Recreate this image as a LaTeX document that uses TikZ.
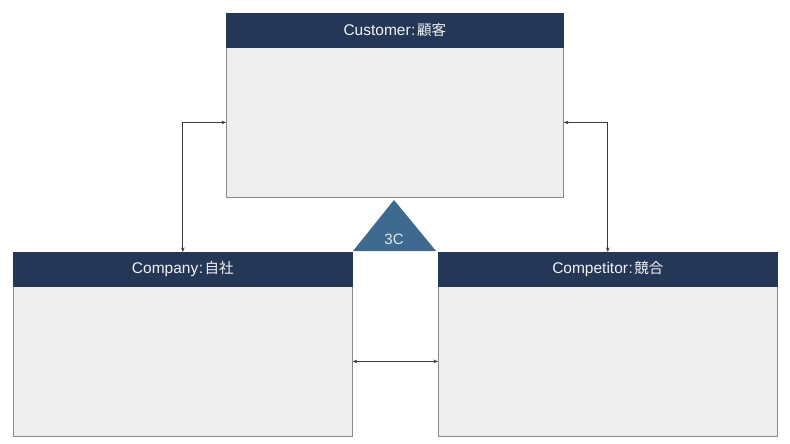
\documentclass[tikz,border=0pt]{standalone}
\usepackage{fontspec}
\setmainfont{Liberation Sans}
\newfontfamily\cjk{Noto Sans CJK JP}
\usetikzlibrary{arrows.meta}
\definecolor{headnavy}{HTML}{243757}
\definecolor{bodygray}{HTML}{EEEEEE}
\definecolor{edgegray}{HTML}{8A8A8A}
\definecolor{trifill}{HTML}{3D6A8E}
\definecolor{linegray}{HTML}{3A3A3A}
\newcommand{\jp}[1]{{\fontsize{14.5}{17}\selectfont\cjk #1}}
\newcommand{\sep}{\kern0.5pt:\kern1.5pt}
\begin{document}
\begin{tikzpicture}[x=1pt,y=-1pt,
  headbox/.style={draw=headnavy,fill=headnavy,text=white!94!headnavy,inner sep=0pt,anchor=north west,
    font=\fontsize{15.5}{18}\selectfont,line width=0.6pt},
  bodybox/.style={draw=edgegray,fill=bodygray,inner sep=0pt,anchor=north west,line width=0.8pt},
  link/.style={draw=linegray,line width=0.7pt,{Stealth[length=4.5pt,width=3.5pt]}-{Stealth[length=4.5pt,width=3.5pt]}}]
\useasboundingbox (0,0) rectangle (790,444);
% top box
\node[bodybox,minimum width=337pt,minimum height=150pt] (topbody) at (226,47) {};
\node[headbox,minimum width=337pt,minimum height=34pt] (tophead) at (226,13) {Customer\sep\jp{顧客}};
% left box
\node[bodybox,minimum width=339pt,minimum height=150pt] (leftbody) at (13,286) {};
\node[headbox,minimum width=339pt,minimum height=34pt] (lefthead) at (13,252) {Company\sep\jp{自社}};
% right box
\node[bodybox,minimum width=339pt,minimum height=150pt] (rightbody) at (438,286) {};
\node[headbox,minimum width=339pt,minimum height=34pt] (righthead) at (438,252) {Competitor\sep\jp{競合}};
% triangle
\coordinate (apex) at (394,200);
\coordinate (bl) at (353,251);
\coordinate (br) at (436,251);
\fill[trifill] (apex) -- (br) -- (bl) -- cycle;
\node[text=white!85!trifill,font=\fontsize{15}{18}\selectfont] (tri) at (394,239) {3C};
% connectors
\draw[link] (topbody.west) -| (lefthead.north);
\draw[link] (topbody.east) -| (righthead.north);
\draw[link] (leftbody.east) -- (rightbody.west);
\end{tikzpicture}
\end{document}
